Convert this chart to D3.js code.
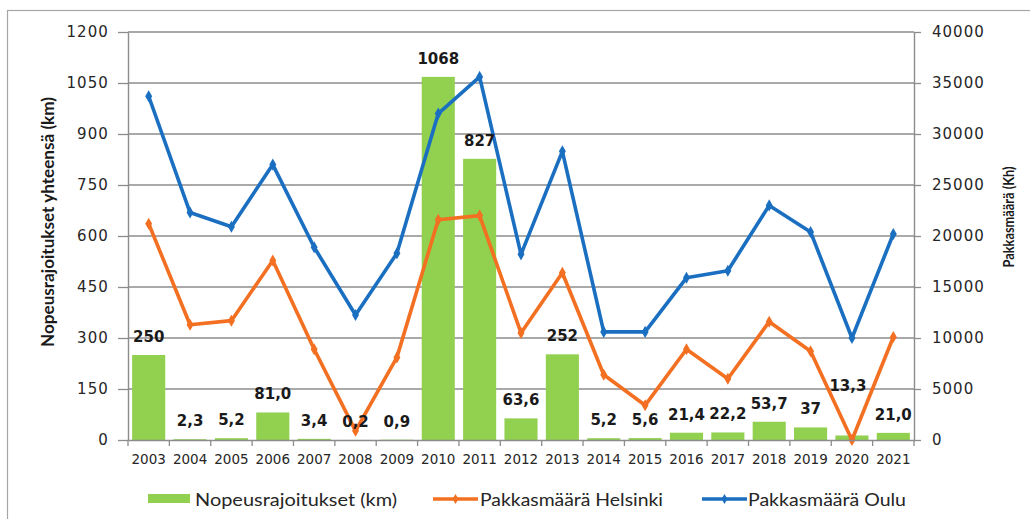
<!DOCTYPE html>
<html>
<head>
<meta charset="utf-8">
<script src="https://cdn.jsdelivr.net/npm/d3@7"></script>
<style>
  html, body { margin: 0; padding: 0; background: #fff; }
  svg { display: block; }
</style>
</head>
<body>
<svg id="chart" width="1030" height="519"></svg>
<script>
// Years on the category axis
const years = ["2003","2004","2005","2006","2007","2008","2009","2010","2011","2012",
               "2013","2014","2015","2016","2017","2018","2019","2020","2021"];

// Speed restrictions in total (km), left axis
const nopeusrajoitukset = [250, 2.3, 5.2, 81.0, 3.4, 0.2, 0.9, 1068, 827, 63.6,
                           252, 5.2, 5.6, 21.4, 22.2, 53.7, 37, 13.3, 21.0];
// Bar labels as printed (Finnish decimal comma)
const barLabels = ["250","2,3","5,2","81,0","3,4","0,2","0,9","1068","827","63,6",
                   "252","5,2","5,6","21,4","22,2","53,7","37","13,3","21,0"];

// Frost sum (Kh), right axis
const pakkasHelsinki = [21200, 11300, 11700, 17600, 8900, 900, 8100, 21600, 22000, 10500,
                        16400, 6400, 3400, 8900, 6000, 11600, 8700, 0, 10100];
const pakkasOulu = [33700, 22300, 20900, 27000, 18900, 12250, 18300, 32000, 35600, 18200,
                    28300, 10600, 10600, 15900, 16600, 23000, 20400, 10000, 20200];

// Axis ticks
const leftTicks = [0, 150, 300, 450, 600, 750, 900, 1050, 1200];
const rightTicks = [0, 5000, 10000, 15000, 20000, 25000, 30000, 35000, 40000];

const seriesNames = ["Nopeusrajoitukset (km)", "Pakkasmäärä Helsinki", "Pakkasmäärä Oulu"];

const colors = { bar: "#92d050", helsinki: "#f36f21", oulu: "#1b6fc0", grid: "#8c8c8c", text: "#262626" };

const svg = d3.select("#chart");
const plot = { left: 128, right: 914, top: 32, bottom: 440 };

// outer frame
svg.append("rect")
  .attr("x", 7.5).attr("y", 10.5).attr("width", 1200).attr("height", 700)
  .attr("fill", "#fff").attr("stroke", "#a6a6a6").attr("stroke-width", 1.2);

const x = d3.scaleBand().domain(years).range([plot.left, plot.right]).padding(0);
const yL = d3.scaleLinear().domain([0, 1200]).range([plot.bottom, plot.top]);
const yR = d3.scaleLinear().domain([0, 40000]).range([plot.bottom, plot.top]);
const barW = x.bandwidth() * 0.8;
const cx = d => x(d) + x.bandwidth() / 2;

// horizontal gridlines
svg.append("g").selectAll("line")
  .data(leftTicks.filter(t => t > 0))
  .join("line")
  .attr("x1", plot.left).attr("x2", plot.right)
  .attr("y1", d => yL(d)).attr("y2", d => yL(d))
  .attr("stroke", colors.grid).attr("stroke-width", 1.4);

// bars
svg.append("g").selectAll("rect")
  .data(years)
  .join("rect")
  .attr("x", d => cx(d) - barW / 2)
  .attr("width", barW)
  .attr("y", (d, i) => yL(nopeusrajoitukset[i]))
  .attr("height", (d, i) => plot.bottom - yL(nopeusrajoitukset[i]))
  .attr("fill", colors.bar);

// frost sum lines with diamond markers
function drawSeries(values, color) {
  const line = d3.line().x((d, i) => cx(years[i])).y(d => yR(d));
  svg.append("path")
    .datum(values)
    .attr("d", line)
    .attr("fill", "none")
    .attr("stroke", color)
    .attr("stroke-width", 3.6)
    .attr("stroke-linejoin", "round");
  svg.append("g").selectAll("path")
    .data(values)
    .join("path")
    .attr("transform", (d, i) => `translate(${cx(years[i])},${yR(d)})`)
    .attr("d", d3.symbol(d3.symbolDiamond, 42)())
    .attr("fill", color);
}
drawSeries(pakkasHelsinki, colors.helsinki);
drawSeries(pakkasOulu, colors.oulu);

// bar value labels; the 2020 label sits higher to clear the lines
const labelNudge = { "2020": [-4, -31] };
svg.append("g").selectAll("text")
  .data(years)
  .join("text")
  .attr("x", d => cx(d) + (labelNudge[d] ? labelNudge[d][0] : 0))
  .attr("y", (d, i) => yL(nopeusrajoitukset[i]) - 13 + (labelNudge[d] ? labelNudge[d][1] : 0))
  .attr("text-anchor", "middle")
  .attr("font-family", "DejaVu Sans, sans-serif")
  .attr("font-weight", "bold")
  .attr("font-size", 15)
  .attr("fill", "#1a1a1a")
  .text((d, i) => barLabels[i]);

// axes
const tickFont = g => g.selectAll("text")
  .attr("font-family", "DejaVu Sans, sans-serif")
  .attr("fill", colors.text);

const leftAxis = svg.append("g")
  .attr("transform", `translate(${plot.left},0)`)
  .call(d3.axisLeft(yL).tickValues(leftTicks).tickFormat(d3.format("d"))
    .tickSize(10).tickPadding(9).tickSizeOuter(0));
leftAxis.call(tickFont).selectAll("text").attr("font-size", 15).attr("letter-spacing", 1.1);

const rightAxis = svg.append("g")
  .attr("transform", `translate(${plot.right},0)`)
  .call(d3.axisRight(yR).tickValues(rightTicks).tickFormat(d3.format("d"))
    .tickSize(7).tickPadding(11).tickSizeOuter(0));
rightAxis.call(tickFont).selectAll("text").attr("font-size", 15).attr("letter-spacing", 1.0);

const bottomAxis = svg.append("g")
  .attr("transform", `translate(0,${plot.bottom})`)
  .call(d3.axisBottom(x).tickSize(0).tickPadding(14));
bottomAxis.call(tickFont).selectAll("text").attr("font-size", 13.5);
// category boundary tick marks
bottomAxis.append("g").selectAll("line")
  .data(years.concat(["end"]))
  .join("line")
  .attr("x1", (d, i) => plot.left + i * x.step())
  .attr("x2", (d, i) => plot.left + i * x.step())
  .attr("y1", 0).attr("y2", 6)
  .attr("stroke", colors.grid).attr("stroke-width", 1.3);

[leftAxis, rightAxis, bottomAxis].forEach(g => {
  g.selectAll(".domain").attr("stroke", colors.grid).attr("stroke-width", 1.4);
  g.selectAll(".tick line").attr("stroke", colors.grid).attr("stroke-width", 1.3);
});

// axis titles
svg.append("text")
  .attr("transform", `translate(54,222) rotate(-90)`)
  .attr("text-anchor", "middle")
  .attr("font-family", "Lato, sans-serif")
  .attr("font-weight", "bold")
  .attr("font-size", 16.5)
  .attr("textLength", 250)
  .attr("lengthAdjust", "spacingAndGlyphs")
  .attr("fill", "#1a1a1a")
  .text("Nopeusrajoitukset yhteensä (km)");

svg.append("text")
  .attr("transform", `translate(1014,217) rotate(-90)`)
  .attr("text-anchor", "middle")
  .attr("font-family", "Lato, sans-serif")
  .attr("font-weight", "bold")
  .attr("font-size", 15.5)
  .attr("textLength", 101)
  .attr("lengthAdjust", "spacingAndGlyphs")
  .attr("fill", "#1a1a1a")
  .text("Pakkasmäärä (Kh)");

// legend
const legendY = 499;
const legend = svg.append("g").attr("font-family", "Lato, sans-serif").attr("font-size", 18).attr("fill", colors.text);

legend.append("rect").attr("x", 148).attr("y", legendY - 5).attr("width", 42).attr("height", 9).attr("fill", colors.bar);
legend.append("text").attr("x", 195).attr("y", legendY + 6.5)
  .attr("textLength", 202).attr("lengthAdjust", "spacingAndGlyphs").text(seriesNames[0]);

function legendLine(x0, x1, color) {
  legend.append("line").attr("x1", x0).attr("x2", x1).attr("y1", legendY).attr("y2", legendY)
    .attr("stroke", color).attr("stroke-width", 3.6);
  legend.append("path")
    .attr("transform", `translate(${(x0 + x1) / 2},${legendY})`)
    .attr("d", d3.symbol(d3.symbolDiamond, 30)())
    .attr("fill", color);
}
legendLine(433, 478, colors.helsinki);
legend.append("text").attr("x", 480).attr("y", legendY + 6.5)
  .attr("textLength", 183).attr("lengthAdjust", "spacingAndGlyphs").text(seriesNames[1]);

legendLine(702, 747, colors.oulu);
legend.append("text").attr("x", 748).attr("y", legendY + 6.5)
  .attr("textLength", 158).attr("lengthAdjust", "spacingAndGlyphs").text(seriesNames[2]);
</script>
</body>
</html>
